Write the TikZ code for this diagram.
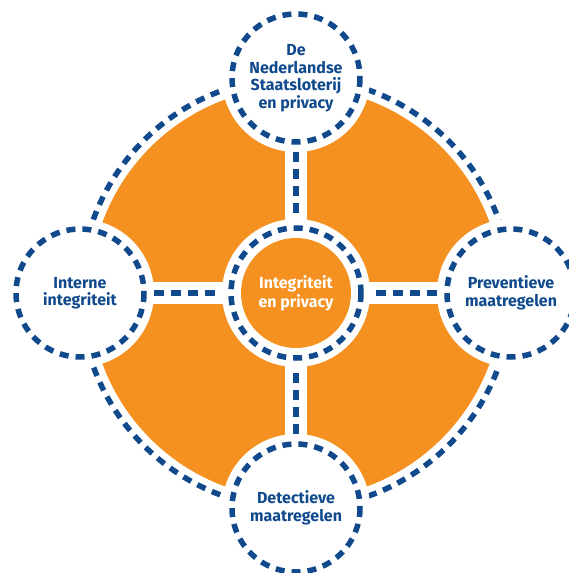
\documentclass[tikz,border=0pt]{standalone}
\usepackage{fontspec}
\setmainfont{Fira Sans}
\usetikzlibrary{calc}
\begin{document}
\definecolor{lotorange}{RGB}{245,145,32}
\definecolor{lotblue}{RGB}{16,74,140}
\begin{tikzpicture}[x=1pt,y=-1pt,
  dashring/.style={draw=lotblue,line width=5.5pt,dash pattern=on 9pt off 7pt},
  dashroad/.style={draw=lotblue,line width=5.5pt,dash pattern=on 10pt off 7pt},
  label/.style={align=center,text=lotblue,font=\fontsize{16}{17.5}\selectfont\bfseries},
  hub/.style={align=center,text=white,font=\fontsize{16}{19}\selectfont\bfseries}]
\useasboundingbox (0,0) rectangle (568,573);
% anchor points
\coordinate (c) at (296,293);
\coordinate (t) at (296,78);
\coordinate (b) at (296,508);
\coordinate (l) at (80,293);
\coordinate (r) at (511,293);
% orange wheel and its dashed rim
\fill[lotorange] (c) circle[radius=206];
\draw[dashring] (c) circle[radius=215.5];
% white cross separating the quadrants
\fill[white] ($(t)+(-11,0)$) rectangle ($(b)+(11,0)$);
\fill[white] ($(l)+(0,-11)$) rectangle ($(r)+(0,11)$);
% hub
\fill[white] (c) circle[radius=74];
\draw[dashring] (c) circle[radius=65];
\fill[lotorange] (c) circle[radius=55];
% outer circles
\foreach \p in {t,b,l,r}{
  \fill[white] (\p) circle[radius=74];
  \draw[dashring] (\p) circle[radius=64];
}
% dashed roads between hub and outer circles
\coordinate (ct) at ($(c)+(0,-74)$);
\coordinate (cb) at ($(c)+(0,74)$);
\coordinate (cl) at ($(c)+(-74,0)$);
\coordinate (cr) at ($(c)+(74,0)$);
\coordinate (tt) at ($(t)+(0,74)$);
\coordinate (bb) at ($(b)+(0,-74)$);
\coordinate (ll) at ($(l)+(74,0)$);
\coordinate (rr) at ($(r)+(-74,0)$);
\draw[dashroad] (tt) -- (ct);
\draw[dashroad] (bb) -- (cb);
\draw[dashroad] (ll) -- (cl);
\draw[dashroad] (rr) -- (cr);
% texts
\node[hub] (hubtext) at (c) {Integriteit\\en privacy};
\node[label] (toptext) at (t) {De\\Nederlandse\\Staatsloterij\\en privacy};
\node[label] (lefttext) at (l) {Interne\\integriteit};
\node[label] (righttext) at (r) {Preventieve\\maatregelen};
\node[label] (bottomtext) at (b) {Detectieve\\maatregelen};
\end{tikzpicture}
\end{document}
